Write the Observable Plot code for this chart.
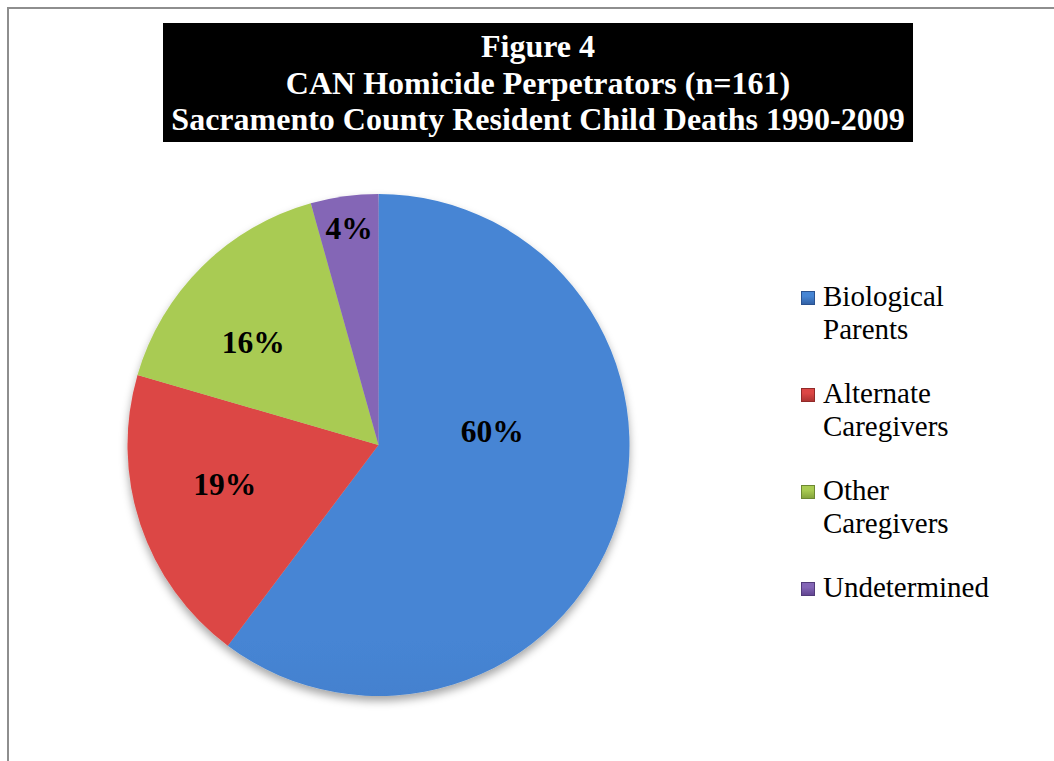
<!DOCTYPE html>
<html>
<head>
<meta charset="utf-8">
<script src="https://cdn.jsdelivr.net/npm/d3@7"></script>
<script src="https://cdn.jsdelivr.net/npm/@observablehq/plot@0.6"></script>
<style>
  html, body { margin: 0; padding: 0; background: #fff; }
  #wrap { position: relative; width: 1054px; height: 761px; overflow: hidden; font-family: "Liberation Serif", "Times New Roman", serif; }
  #frame { position: absolute; left: 7px; top: 7px; width: 1100px; height: 800px; border-left: 2px solid #8e8e8e; border-top: 2px solid #8e8e8e; }
  #title { position: absolute; left: 163px; top: 23px; width: 750px; height: 119px; box-sizing: border-box; padding-top: 5px; background: #000; color: #fff; font-weight: bold; font-size: 32px; line-height: 36.5px; text-align: center; white-space: nowrap; }
  #chart { position: absolute; left: 0; top: 0; }
  #legend { position: absolute; left: 801px; top: 280px; display: flex; flex-direction: column; gap: 31px; }
  .entry { position: relative; padding-left: 22px; font-size: 29px; line-height: 33px; color: #000; white-space: nowrap; }
  .swatch { position: absolute; left: 0; top: 11px; width: 14px; height: 14px; box-sizing: border-box; }
</style>
</head>
<body>
<div id="wrap">
  <div id="frame"></div>
  <div id="chart"></div>
  <div id="title">Figure 4<br>CAN Homicide Perpetrators (n=161)<br>Sacramento County Resident Child Deaths 1990-2009</div>
  <div id="legend"></div>
</div>
<script>
// ---- data ----
const categories = ["Biological Parents", "Alternate Caregivers", "Other Caregivers", "Undetermined"];
const legendLines = [["Biological", "Parents"], ["Alternate", "Caregivers"], ["Other", "Caregivers"], ["Undetermined"]];
const counts = [97, 31, 26, 7]; // n = 161
const percentLabels = ["60%", "19%", "16%", "4%"];

// ---- styles ----
const colorTop = ["#4685d4", "#dc4745", "#a9cb52", "#8466b6"];
const colorBottom = ["#3262a6", "#ae3432", "#85a43c", "#624592"];
const colorEdge = ["#2a5290", "#912a29", "#6d8832", "#523b7a"];
const labelRadius = [0.454, 0.635, 0.646, 0.873];
const labelAngleShift = [-25.2, 4, -6.2, 0];

const data = categories.map((c, i) => ({category: c, count: counts[i], label: percentLabels[i], i}));
const arcs = d3.pie().sort(null).value(d => d.count)(data);

const labelData = arcs.map((a, i) => {
  const mid = (a.startAngle + a.endAngle) / 2 + labelAngleShift[i] * Math.PI / 180;
  return {x: labelRadius[i] * Math.sin(mid), y: labelRadius[i] * Math.cos(mid), text: a.data.label};
});

function pieMark(index, scales, values, dimensions) {
  const cx = scales.x(0), cy = scales.y(0);
  const R = Math.abs(scales.x(1) - scales.x(0));
  const g = d3.create("svg:g");
  const defs = g.append("defs");
  const f = defs.append("filter").attr("id", "pieShadow").attr("x", "-20%").attr("y", "-20%").attr("width", "140%").attr("height", "140%");
  f.append("feDropShadow").attr("dx", 0).attr("dy", 5).attr("stdDeviation", 4).attr("flood-color", "#000").attr("flood-opacity", 0.35);
  const bev = defs.append("linearGradient").attr("id", "bevel").attr("gradientUnits", "userSpaceOnUse")
    .attr("x1", cx - R).attr("y1", cy - R).attr("x2", cx + R * 0.3).attr("y2", cy + R);
  bev.append("stop").attr("offset", "0%").attr("stop-color", "#fff").attr("stop-opacity", 0.45);
  bev.append("stop").attr("offset", "50%").attr("stop-color", "#fff").attr("stop-opacity", 0.08);
  bev.append("stop").attr("offset", "100%").attr("stop-color", "#000").attr("stop-opacity", 0.3);
  arcs.forEach((a, i) => {
    const lg = defs.append("linearGradient").attr("id", "fill" + i).attr("gradientUnits", "userSpaceOnUse")
      .attr("x1", cx).attr("y1", cy - R).attr("x2", cx).attr("y2", cy + R);
    lg.append("stop").attr("offset", "0%").attr("stop-color", colorTop[i]);
    lg.append("stop").attr("offset", "100%").attr("stop-color", colorBottom[i]);
  });
  const arc = d3.arc().innerRadius(0).outerRadius(R);
  const body = g.append("g").attr("transform", `translate(${cx},${cy})`);
  const shadowed = body.append("g").attr("filter", "url(#pieShadow)");
  shadowed.selectAll("path").data(arcs).join("path")
    .attr("d", arc).attr("fill", (d, i) => `url(#fill${i})`);
  arcs.forEach((a, i) => {
    defs.append("clipPath").attr("id", "clip" + i).append("path")
      .attr("transform", `translate(${cx},${cy})`).attr("d", arc(a));
  });
  const bevG = g.append("g");
  arcs.forEach((a, i) => {
    bevG.append("path").attr("transform", `translate(${cx},${cy})`).attr("d", arc(a))
      .attr("fill", "none").attr("stroke", "url(#bevel)").attr("stroke-width", 9)
      .attr("stroke-linejoin", "round").attr("clip-path", `url(#clip${i})`);
    bevG.append("path").attr("transform", `translate(${cx},${cy})`).attr("d", arc(a))
      .attr("fill", "none").attr("stroke", colorEdge[i]).attr("stroke-width", 1).attr("stroke-opacity", 0.8)
      .attr("clip-path", `url(#clip${i})`);
  });
  return g.node();
}

const chart = Plot.plot({
  width: 1054,
  height: 761,
  margin: 0,
  x: {domain: [-1, 1], range: [127.5, 629.5], axis: null},
  y: {domain: [-1, 1], range: [696, 194], axis: null},
  marks: [
    pieMark,
    Plot.text(labelData, {
      x: "x", y: "y", text: "text",
      fontSize: 31.5, fontWeight: "bold", fontFamily: "Liberation Serif, Times New Roman, serif",
      fill: "#000", textAnchor: "middle", lineAnchor: "middle"
    })
  ]
});
chart.style.background = "transparent";
document.getElementById("chart").appendChild(chart);

// legend
const legend = d3.select("#legend");
categories.forEach((c, i) => {
  const e = legend.append("div").attr("class", "entry");
  e.append("div").attr("class", "swatch")
    .style("background", `linear-gradient(180deg, ${colorTop[i]} 0%, ${colorTop[i]} 35%, ${colorBottom[i]} 100%)`)
    .style("border", `1px solid ${colorEdge[i]}`);
  e.append("span").html(legendLines[i].join("<br>"));
});
</script>
</body>
</html>
